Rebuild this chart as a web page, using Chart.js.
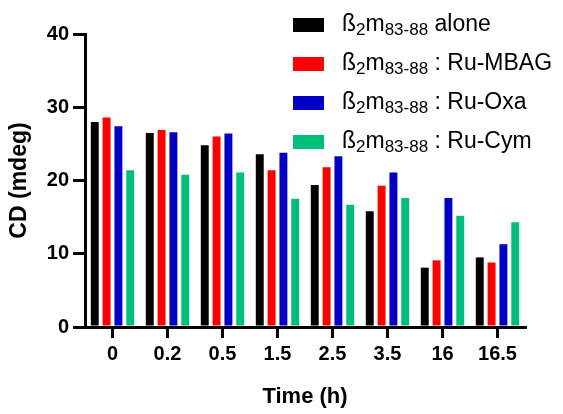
<!DOCTYPE html>
<html>
<head>
<meta charset="utf-8">
<script src="https://cdn.jsdelivr.net/npm/chart.js@4"></script>
<style>
  html, body { margin: 0; padding: 0; background: #fff; }
  #wrap { width: 563px; height: 414px; position: relative; }
</style>
</head>
<body>
<div id="wrap"><canvas id="cd"></canvas></div>
<script>
// time points (h)
const categories = ['0', '0.2', '0.5', '1.5', '2.5', '3.5', '16', '16.5'];

// CD signal (mdeg)
const alone = [28.0, 26.5, 24.8, 23.6, 19.4, 15.8, 8.1, 9.5];
const ruMbag = [28.6, 26.9, 26.0, 21.4, 21.8, 19.3, 9.1, 8.8];
const ruOxa = [27.4, 26.6, 26.4, 23.8, 23.3, 21.1, 17.6, 11.3];
const ruCym = [21.4, 20.8, 21.1, 17.5, 16.7, 17.6, 15.2, 14.3];

const yTicks = [0, 10, 20, 30, 40];
const seriesNames = ['alone', ': Ru-MBAG', ': Ru-Oxa', ': Ru-Cym'];
const colors = ['#000000', '#ff0000', '#0000c4', '#00bf7c'];

const FONT = '"Liberation Sans", Arial, Helvetica, sans-serif';
Chart.defaults.font.family = FONT;
Chart.defaults.color = '#000';

// legend with sub-scripts: ß2m83-88 <name>
const subLegend = {
  id: 'subLegend',
  afterDraw(chart) {
    const ctx = chart.ctx;
    ctx.save();
    chart.data.datasets.forEach((ds, i) => {
      const cy = 25 + i * 39;
      ctx.fillStyle = ds.backgroundColor;
      ctx.fillRect(293, cy - 7, 31, 14);
      ctx.fillStyle = '#000';
      ctx.textBaseline = 'alphabetic';
      let x = 342;
      const parts = [
        ['ß', 23, 0], ['2', 17, 4], ['m', 23, 0], ['83-88', 17, 4], [' ' + seriesNames[i], 23, 0]
      ];
      parts.forEach(([t, size, dy]) => {
        ctx.font = size + 'px ' + FONT;
        ctx.fillText(t, x, cy + 6 + dy);
        x += ctx.measureText(t).width;
      });
    });
    ctx.restore();
  }
};

const datasets = [alone, ruMbag, ruOxa, ruCym].map((d, i) => ({
  label: 'ß2m83-88 ' + seriesNames[i],
  data: d,
  backgroundColor: colors[i],
  borderWidth: 0,
  categoryPercentage: 0.86,
  barPercentage: 0.67
}));

new Chart(document.getElementById('cd'), {
  type: 'bar',
  data: { labels: categories, datasets },
  plugins: [subLegend],
  options: {
    responsive: true,
    maintainAspectRatio: false,
    animation: false,
    layout: { padding: { left: 0, top: 34, right: 38, bottom: 0 } },
    plugins: { legend: { display: false }, tooltip: { enabled: false } },
    scales: {
      x: {
        afterFit(s) { s.height = 87; },
        grid: { display: true, drawOnChartArea: false, offset: false, color: '#000', lineWidth: 3, tickLength: 11 },
        border: { color: '#000', width: 3 },
        ticks: { font: { size: 20, weight: 'bold' }, padding: 4, maxRotation: 0 },
        title: { display: true, text: 'Time (h)', font: { size: 22, weight: 'bold' }, padding: { top: 0, bottom: 4 } }
      },
      y: {
        min: 0, max: 40,
        afterFit(s) { s.width = 85; },
        afterBuildTicks(s) { s.ticks = yTicks.map(v => ({ value: v })); },
        grid: { display: true, drawOnChartArea: false, color: '#000', lineWidth: 3, tickLength: 12 },
        border: { color: '#000', width: 3 },
        ticks: { font: { size: 20, weight: 'bold' }, padding: 4 },
        title: { display: true, text: 'CD (mdeg)', font: { size: 23, weight: 'bold' }, padding: { top: 6, bottom: 0 } }
      }
    }
  }
});
</script>
</body>
</html>
